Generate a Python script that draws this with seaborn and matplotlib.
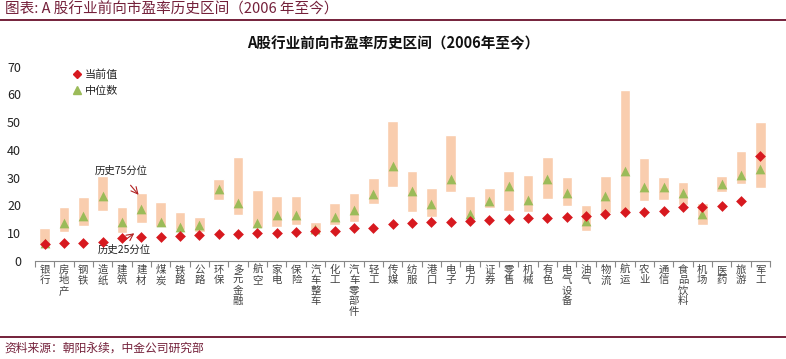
import numpy as np
import pandas as pd
import matplotlib
matplotlib.use("Agg")
import matplotlib.pyplot as plt
from matplotlib.lines import Line2D
import seaborn as sns

# A股行业前向市盈率历史区间（2006年至今）
industries = ["银行", "房地产", "钢铁", "造纸", "建筑", "建材", "煤炭", "铁路", "公路", "环保",
              "多元金融", "航空", "家电", "保险", "汽车整车", "化工", "汽车零部件", "轻工", "传媒", "纺服",
              "港口", "电子", "电力", "证券", "零售", "机械", "有色", "电气设备", "油气", "物流",
              "航运", "农业", "通信", "食品饮料", "机场", "医药", "旅游", "军工"]
p75 = [11.7, 19.2, 23.1, 30.6, 19.2, 24.3, 21.3, 17.7, 15.9, 29.5,
       37.3, 25.5, 23.4, 23.5, 13.8, 20.7, 24.3, 30.0, 50.4, 32.4,
       26.1, 45.4, 23.3, 26.1, 32.5, 30.9, 37.3, 30.1, 20.1, 30.6,
       61.6, 36.9, 30.3, 28.5, 20.7, 30.7, 39.7, 49.9]
p25 = [5.7, 10.5, 12.5, 17.9, 9.9, 13.5, 12.0, 11.1, 10.5, 21.9,
       16.5, 11.7, 12.3, 12.9, 10.1, 12.9, 13.8, 20.5, 26.7, 17.7,
       15.9, 24.9, 15.3, 18.9, 17.9, 17.4, 22.3, 19.8, 10.8, 17.1,
       17.7, 21.7, 21.9, 20.1, 12.9, 24.9, 27.7, 26.1]
median = [6.5, 13.5, 16.2, 23.5, 14.0, 18.5, 14.1, 12.3, 12.9, 25.9,
          21.0, 13.7, 16.5, 16.5, 11.4, 15.9, 18.3, 24.1, 34.2, 25.3,
          20.5, 29.5, 16.7, 21.7, 27.1, 21.9, 29.5, 24.5, 14.4, 23.5,
          32.5, 26.5, 26.5, 24.5, 16.8, 27.7, 30.9, 33.1]
current = [6.0, 6.5, 6.5, 6.9, 8.1, 8.4, 8.7, 9.0, 9.3, 9.6,
           9.6, 10.1, 10.1, 10.3, 10.8, 10.8, 11.7, 11.9, 13.1, 13.7,
           14.1, 14.1, 14.4, 14.7, 15.0, 15.5, 15.5, 15.9, 16.2, 16.7,
           17.4, 17.4, 18.0, 19.5, 19.5, 19.8, 21.7, 37.8]

df = pd.DataFrame({"行业": industries, "p75": p75, "p25": p25,
                   "中位数": median, "当前值": current})
df["range"] = df["p75"] - df["p25"]

sns.set_theme(style="white")
plt.rcParams["font.family"] = ["Noto Sans CJK SC", "DejaVu Sans"]

fig = plt.figure(figsize=(7.86, 3.59), dpi=100)
ax = fig.add_axes([0.0445, 0.2738, 0.935, 0.5404])

bar_c = "#F9CDAE"
red = "#D7191F"
green = "#9BBB59"
maroon = "#74203A"

sns.barplot(data=df, x="行业", y="range", bottom=df["p25"].values, order=industries,
            color=bar_c, width=0.55, saturation=1, ax=ax)
sns.stripplot(data=df, x="行业", y="当前值", order=industries, jitter=False,
              marker="D", size=5.5, color=red, linewidth=0, ax=ax, zorder=4)
sns.stripplot(data=df, x="行业", y="中位数", order=industries, jitter=False,
              marker="^", size=7, color=green, linewidth=0, ax=ax, zorder=3)

ax.set_xlim(-0.5, len(industries) - 0.5)
ax.set_ylim(0, 70)
ax.set_yticks(range(0, 71, 10))
ax.set_xlabel("")
ax.set_ylabel("")
ax.set_xticks(range(len(industries)))
ax.set_xticklabels(["\n".join(s) for s in industries], fontsize=7.5, color="#444444",
                   linespacing=1.05, va="top")
ax.set_xticks(np.arange(-0.5, len(industries), 1), minor=True)
ax.tick_params(axis="x", which="major", length=0, pad=3)
ax.tick_params(axis="x", which="minor", length=4, width=0.8, color="#888888", direction="out", bottom=True)
ax.tick_params(axis="y", length=0, labelsize=9, pad=10, labelcolor="#222222")
for s in ["left", "top", "right"]:
    ax.spines[s].set_visible(False)
ax.spines["bottom"].set_color("#888888")
ax.spines["bottom"].set_linewidth(0.8)

# annotations
ax.annotate("", xy=(4.95, 23.0), xytext=(4.35, 28.0),
            arrowprops=dict(arrowstyle="->", color="#B22222", lw=0.8))
ax.text(3.95, 32.5, "历史75分位", fontsize=7.5, ha="center", va="center", color="#222222")
ax.annotate("", xy=(4.75, 10.5), xytext=(3.95, 6.4),
            arrowprops=dict(arrowstyle="->", color="#B22222", lw=0.8))
ax.text(4.1, 3.8, "历史25分位", fontsize=7.5, ha="center", va="center", color="#222222")

handles = [Line2D([], [], marker="D", color=red, linestyle="", markersize=4),
           Line2D([], [], marker="^", color=green, linestyle="", markersize=5.5)]
ax.legend(handles, ["当前值", "中位数"], loc="upper left", bbox_to_anchor=(0.035, 1.04),
          frameon=False, fontsize=8, handletextpad=0.1, labelspacing=0.6, handlelength=1.2)

fig.text(0.5, 0.88, "A股行业前向市盈率历史区间（2006年至今）", ha="center", va="center",
         fontsize=10.5, fontweight="bold", color="#111111")
fig.text(0.006, 0.975, "图表: A 股行业前向市盈率历史区间（2006 年至今）", ha="left", va="center",
         fontsize=10.5, color=maroon, style="italic")
fig.add_artist(Line2D([0, 1], [0.944, 0.944], color=maroon, lw=1.4))
fig.add_artist(Line2D([0, 1], [0.061, 0.061], color=maroon, lw=1.4))
fig.text(0.006, 0.03, "资料来源：朝阳永续，中金公司研究部", ha="left", va="center",
         fontsize=8.5, color=maroon, style="italic")

fig.savefig("out.png", dpi=100)
